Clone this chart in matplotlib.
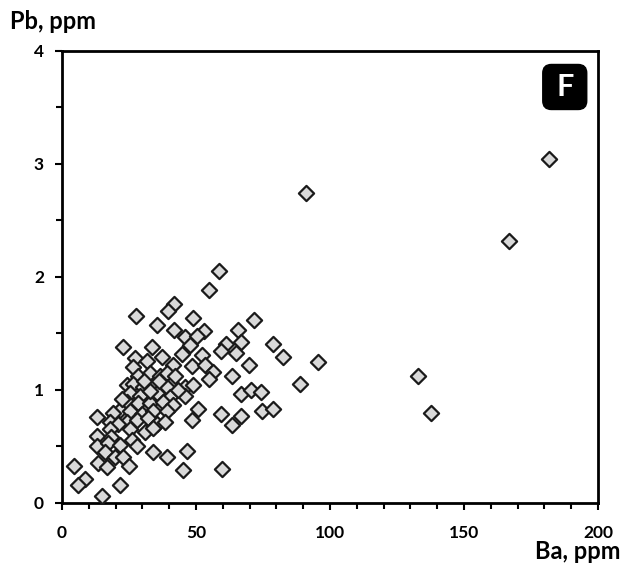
import matplotlib
matplotlib.use('Agg')
import matplotlib.pyplot as plt
from matplotlib.patches import FancyBboxPatch
from matplotlib.ticker import MultipleLocator

plt.rcParams['font.family'] = ['Lato', 'DejaVu Sans']

# Ba (ppm) vs Pb (ppm)
ba = [181.7, 91.2, 166.7, 132.7, 137.5, 71.7, 65.7, 66.7, 65.0, 78.9,
      82.6, 95.6, 69.7, 63.3, 88.7, 66.9, 70.7, 74.2, 66.7, 63.6,
      74.7, 78.9, 58.7, 54.9, 41.8, 39.6, 27.6, 48.9, 35.5, 41.8,
      53.0, 45.9, 50.3, 22.8, 33.7, 47.8, 61.2, 59.2, 27.2, 31.6,
      37.2, 41.6, 44.6, 52.1, 26.6, 48.6, 53.4, 56.5, 54.7, 24.1,
      28.5, 32.8, 36.6, 39.3, 42.2, 26.6, 30.4, 34.0, 39.0, 45.9,
      49.0, 25.4, 29.1, 35.4, 40.3, 45.9, 24.1, 28.5, 32.8, 37.8,
      41.6, 21.7, 25.4, 29.7, 34.0, 39.0, 50.7, 59.3, 12.9, 19.1,
      24.1, 27.9, 32.2, 35.4, 38.4, 48.6, 17.9, 21.0, 17.9, 25.4,
      31.0, 34.0, 12.9, 18.3, 26.0, 12.9, 17.3, 21.7, 27.9, 16.1,
      19.7, 22.9, 34.0, 39.0, 46.5, 13.5, 16.9, 25.1, 45.1, 59.8,
      4.4, 8.6, 5.9, 21.7, 15.1, 30.5, 33.0, 36.1, 43.2, 22.3]
pb = [3.04, 2.74, 2.32, 1.12, 0.80, 1.62, 1.53, 1.42, 1.33, 1.41,
      1.29, 1.25, 1.22, 1.12, 1.05, 0.96, 1.00, 0.98, 0.77, 0.69,
      0.81, 0.83, 2.05, 1.88, 1.76, 1.70, 1.65, 1.64, 1.57, 1.53,
      1.52, 1.47, 1.48, 1.38, 1.38, 1.40, 1.41, 1.34, 1.28, 1.26,
      1.29, 1.22, 1.32, 1.31, 1.20, 1.21, 1.22, 1.16, 1.10, 1.04,
      1.12, 1.15, 1.12, 1.15, 1.12, 1.05, 1.03, 1.04, 1.03, 1.03,
      1.04, 0.97, 0.95, 0.97, 0.94, 0.95, 0.89, 0.88, 0.88, 0.89,
      0.87, 0.82, 0.81, 0.79, 0.81, 0.81, 0.83, 0.79, 0.76, 0.80,
      0.72, 0.73, 0.75, 0.70, 0.72, 0.73, 0.72, 0.70, 0.65, 0.65,
      0.63, 0.66, 0.59, 0.58, 0.56, 0.50, 0.53, 0.51, 0.50, 0.45,
      0.41, 0.41, 0.45, 0.41, 0.46, 0.35, 0.32, 0.33, 0.29, 0.30,
      0.33, 0.21, 0.16, 0.16, 0.06, 1.08, 0.99, 1.08, 1.00, 0.92]

fig = plt.figure(figsize=(6.25, 5.78), dpi=100)
ax = fig.add_axes([0.0992, 0.1298, 0.8576, 0.7825])

ax.scatter(ba, pb, marker='D', s=60, facecolor='#d9d9d9', edgecolor='#1a1a1a',
           linewidth=1.6, zorder=3)

ax.set_xlim(0, 200)
ax.set_ylim(0, 4)
ax.xaxis.set_major_locator(MultipleLocator(50))
ax.xaxis.set_minor_locator(MultipleLocator(10))
ax.yaxis.set_major_locator(MultipleLocator(1))
ax.yaxis.set_minor_locator(MultipleLocator(0.5))
ax.tick_params(which='both', direction='out', width=1.5, color='black')
ax.tick_params(which='major', length=5, labelsize=12.5)
ax.tick_params(axis='x', which='major', pad=11)
ax.tick_params(axis='y', which='major', pad=8)
ax.tick_params(which='minor', length=4)
for lab in ax.get_xticklabels() + ax.get_yticklabels():
    lab.set_fontweight('bold')
for sp in ax.spines.values():
    sp.set_linewidth(2)

# axis titles sit outside the frame
fig.text(0.016, 0.962, 'Pb, ppm', fontsize=17, fontweight='bold', va='center', ha='left')
fig.text(0.993, 0.045, 'Ba, ppm', fontsize=17, fontweight='bold', va='center', ha='right')

# panel letter in a black rounded box
box = FancyBboxPatch((0.897, 0.870), 0.082, 0.0995, transform=ax.transAxes,
                     boxstyle='round,pad=0,rounding_size=0.016', mutation_aspect=1.185,
                     facecolor='black', edgecolor='black', zorder=4)
ax.add_patch(box)
ax.text(0.938, 0.919, 'F', transform=ax.transAxes, fontsize=22, fontweight='bold',
        color='white', ha='center', va='center', zorder=5)

fig.savefig('out.png', dpi=100)
